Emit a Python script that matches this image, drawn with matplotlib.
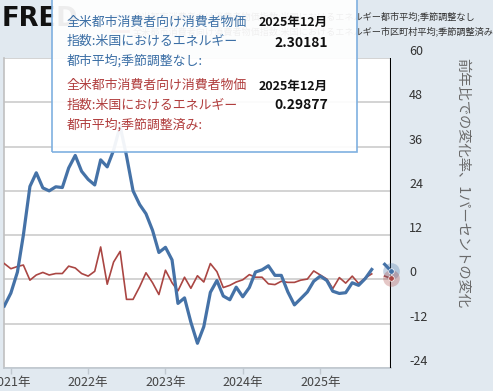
import numpy as np
import pandas as pd
import matplotlib
matplotlib.use("Agg")
import matplotlib.pyplot as plt
from matplotlib.patches import Rectangle
from matplotlib.lines import Line2D

plt.rcParams['font.family'] = ['Noto Sans CJK JP', 'DejaVu Sans']
plt.rcParams['axes.unicode_minus'] = False

# ---- data ----
dates = pd.date_range('2020-12-01', '2025-12-01', freq='MS')
nsa_yoy = [
    -7.2, -3.7, 2.0, 12.0, 25.2, 28.9, 24.8, 24.0, 25.1, 24.9, 30.2, 33.6, 29.3,
    27.1, 25.6, 32.4, 30.5, 35.0, 41.5, 33.5, 24.0, 20.3, 17.8, 13.3, 7.3,
    8.7, 5.3, -6.5, -5.0, -11.6, -17.3, -12.8, -3.5, -0.3, -4.5, -5.5, -2.1,
    -4.7, -2.2, 2.0, 2.6, 3.7, 1.1, 1.1, -3.4, -6.9, -5.2, -3.4, -0.5,
    0.9, -0.3, -3.2, -3.8, -3.6, -0.9, -1.6, 0.2, 2.7, np.nan, 4.1, 2.30181,
]
sa_chg = [
    4.3, 2.9, 3.5, 3.9, -0.2, 1.2, 1.9, 1.2, 1.6, 1.6, 3.6, 3.1, 1.6,
    0.9, 2.2, 8.8, -1.3, 4.7, 7.6, -5.4, -5.4, -2.0, 1.8, -0.9, -4.1,
    2.5, -0.9, -3.1, 0.6, -2.4, 1.0, -0.7, 4.3, 2.1, -2.2, -1.6, -0.7,
    -0.1, 1.3, 0.6, 0.6, -1.2, -1.4, -0.5, -0.8, -0.8, -0.2, 0.1, 2.3,
    1.2, 0.1, -2.5, 0.5, -1.0, 0.9, -1.1, 0.4, 1.5, np.nan, 0.9, 0.29877,
]
year_ticks = pd.to_datetime(['2021-01-01', '2022-01-01', '2023-01-01', '2024-01-01', '2025-01-01'])
year_labels = ['2021年', '2022年', '2023年', '2024年', '2025年']
y_ticks = [-24, -12, 0, 12, 24, 36, 48, 60]

name1 = '全米都市消費者向け消費者物価指数:米国におけるエネルギー都市平均;季節調整なし'
name2 = '全米都市消費者向け消費者物価指数:米国におけるエネルギー市区町村平均;季節調整済み'
tip1 = ['全米都市消費者向け消費者物価', '指数:米国におけるエネルギー', '都市平均;季節調整なし:']
tip2 = ['全米都市消費者向け消費者物価', '指数:米国におけるエネルギー', '都市平均;季節調整済み:']
tip_date = '2025年12月'

BLUE = '#4572a7'
RED = '#aa4643'
BG = '#e1e9f0'

W, H = 493, 391
fig = plt.figure(figsize=(W / 100, H / 100), dpi=100)
fig.patch.set_facecolor(BG)


def fx(px):
    return px / W


def fy(py):
    return 1 - py / H


ax = fig.add_axes([fx(4.3), fy(368), fx(391) - fx(4.3), fy(58) - fy(368)])
ax.set_facecolor('white')

ax.plot(dates, sa_chg, color=RED, lw=1.2, zorder=3)
ax.plot(dates, nsa_yoy, color=BLUE, lw=2.3, zorder=4)

ax.set_xlim(dates[0], dates[-1])
ax.set_ylim(-24, 60)
ax.set_yticks(y_ticks)
ax.set_yticklabels([str(v) for v in y_ticks])
ax.yaxis.tick_right()
ax.tick_params(axis='y', length=0, pad=13, labelsize=9, labelcolor='#333333')
for lbl in ax.get_yticklabels():
    lbl.set_va('bottom')
    lbl.set_ha('left')
ax.set_xticks(year_ticks)
ax.set_xticklabels(year_labels)
ax.tick_params(axis='x', length=4, width=1, color='#c0c8d0', pad=2,
               labelsize=9, labelcolor='#444444')
ax.grid(axis='y', color='#cccccc', lw=1.2)
ax.set_axisbelow(True)
for s in ['top', 'right']:
    ax.spines[s].set_visible(False)
ax.spines['left'].set_color('#c0c0c0')
ax.spines['left'].set_linewidth(1.2)
ax.spines['bottom'].set_color('#c0c8d0')
ax.spines['bottom'].set_linewidth(1.2)

# crosshair and hover markers
ax.axvline(dates[-1], color='black', lw=1.5, zorder=5)
ax.plot([dates[-1]], [nsa_yoy[-1]], 'o', ms=12, color=BLUE, alpha=0.3, mec='none', clip_on=False, zorder=6)
ax.plot([dates[-1]], [sa_chg[-1]], 'o', ms=12, color=RED, alpha=0.3, mec='none', clip_on=False, zorder=6)
ax.plot([dates[-1]], [nsa_yoy[-1]], 'o', ms=4, color=BLUE, mec='white', mew=0.5, clip_on=False, zorder=7)
ax.plot([dates[-1]], [sa_chg[-1]], 'o', ms=4, color=RED, mec='white', mew=0.5, clip_on=False, zorder=7)

fig.text(fx(462), fy(183), '前年比での変化率、1パーセントの変化', rotation=270,
         ha='center', va='center', fontsize=10.3, color='#6a6a6a')

# FRED logo
fig.text(fx(2), fy(19), 'FRED', fontsize=18.5, fontweight='bold', family='DejaVu Sans',
         color='#111111', ha='left', va='center', zorder=4)

# legend (behind tooltip)
fig.add_artist(Line2D([fx(112), fx(128)], [fy(16), fy(16)], color=BLUE, lw=2, zorder=4))
fig.add_artist(Line2D([fx(112), fx(128)], [fy(31), fy(31)], color=RED, lw=2, zorder=4))
fig.text(fx(133), fy(16), name1, fontsize=6.6, color='#333333', ha='left', va='center', zorder=5)
fig.text(fx(133), fy(31), name2, fontsize=6.6, color='#333333', ha='left', va='center', zorder=5)

# tooltip
fig.add_artist(Rectangle((fx(52), fy(151.5)), fx(357) - fx(52), 1.05 - fy(151.5),
                         transform=fig.transFigure, facecolor='white', alpha=0.93,
                         edgecolor='none', zorder=10))
fig.add_artist(Rectangle((fx(52), fy(151.5)), fx(357) - fx(52), 1.05 - fy(151.5),
                         transform=fig.transFigure, facecolor='none',
                         edgecolor='#7fb0e0', lw=1.2, zorder=10.5))
for i, t in enumerate(tip1):
    fig.text(fx(67), fy(22 + i * 19.5), t, fontsize=9.3, color='#3a6ea5',
             ha='left', va='center', zorder=11)
for i, t in enumerate(tip2):
    fig.text(fx(67), fy(85 + i * 20), t, fontsize=9.3, color='#b03c3c',
             ha='left', va='center', zorder=11)
fig.text(fx(328), fy(22), tip_date, fontsize=9, fontweight='bold', color='#111111',
         ha='right', va='center', zorder=11)
fig.text(fx(328), fy(43), f'{nsa_yoy[-1]:.5f}', fontsize=10, fontweight='bold', color='#111111',
         ha='right', va='center', zorder=11)
fig.text(fx(328), fy(86), tip_date, fontsize=9, fontweight='bold', color='#111111',
         ha='right', va='center', zorder=11)
fig.text(fx(328), fy(105), f'{sa_chg[-1]:.5f}', fontsize=10, fontweight='bold', color='#111111',
         ha='right', va='center', zorder=11)

fig.savefig('out.png', dpi=100, facecolor=BG)
